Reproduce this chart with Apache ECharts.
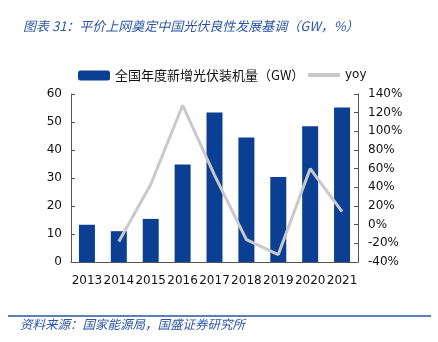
<!DOCTYPE html>
<html><head><meta charset="utf-8">
<script src="https://cdn.jsdelivr.net/npm/echarts@6/dist/echarts.min.js"></script>
<style>html,body{margin:0;padding:0;background:#fff}#c{width:438px;height:342px}</style>
</head><body><div id="c"></div>
<script>
const years = ['2013','2014','2015','2016','2017','2018','2019','2020','2021'];
const newInstalled = [13.3, 11.0, 15.4, 34.8, 53.4, 44.5, 30.4, 48.5, 55.2];
const yoy = [null, -18, 43, 128, 53, -16, -32, 60, 14];
const barName = '全国年度新增光伏装机量（GW）';
const lineName = 'yoy';
const titleText = '图表 31：平价上网奠定中国光伏良性发展基调（GW，%）';
const sourceText = '资料来源：国家能源局，国盛证券研究所';

const chart = echarts.init(document.getElementById('c'));
const axisFont = {fontFamily: 'DejaVu Sans', fontSize: 12, color: '#111'};
chart.setOption({
  animation: false,
  title: {text: titleText, left: 18, top: 15,
    textStyle: {fontFamily: 'Noto Sans CJK SC', fontStyle: 'italic', fontWeight: 'normal', fontSize: 13, color: '#2a55a5'}},
  legend: [
    {data: [barName], left: 73, top: 64, itemWidth: 32, itemHeight: 10, icon: 'roundRect', itemGap: 4,
      textStyle: {fontFamily: 'Noto Sans CJK SC', fontSize: 13, color: '#111'}},
    {data: [lineName], left: 303, top: 64, itemWidth: 32, itemHeight: 4, icon: 'rect',
      textStyle: {fontFamily: 'DejaVu Sans', fontSize: 12, color: '#111'}}
  ],
  grid: {left: 71, right: 80, top: 94, bottom: 80},
  xAxis: {type: 'category', data: years,
    axisLine: {lineStyle: {color: '#555'}},
    axisTick: {inside: true, length: 4, lineStyle: {color: '#555'}},
    axisLabel: Object.assign({margin: 13, interval: 0}, axisFont)},
  yAxis: [
    {type: 'value', min: 0, max: 60, interval: 10,
      axisLine: {show: true, lineStyle: {color: '#555'}},
      axisTick: {show: true, inside: true, length: 4, lineStyle: {color: '#555'}},
      splitLine: {show: false},
      axisLabel: Object.assign({margin: 9}, axisFont)},
    {type: 'value', min: -40, max: 140, interval: 20,
      axisLine: {show: true, lineStyle: {color: '#555'}},
      axisTick: {show: true, inside: true, length: 4, lineStyle: {color: '#555'}},
      splitLine: {show: false},
      axisLabel: Object.assign({margin: 10, formatter: '{value}%'}, axisFont)}
  ],
  series: [
    {name: barName, type: 'bar', data: newInstalled, barWidth: 16, yAxisIndex: 0,
      itemStyle: {color: '#0a3f94'}},
    {name: lineName, type: 'line', data: yoy, yAxisIndex: 1, symbol: 'none',
      lineStyle: {color: '#c9c9c9', width: 3}, itemStyle: {color: '#c9c9c9'}}
  ],
  graphic: [
    {type: 'line', shape: {x1: 8, y1: 316, x2: 431, y2: 316}, style: {stroke: '#2a55a5', lineWidth: 1.5}},
    {type: 'text', left: 20, top: 318, style: {text: sourceText, font: 'italic 12.5px "Noto Sans CJK SC"', fill: '#2a55a5'}}
  ]
});
</script></body></html>
